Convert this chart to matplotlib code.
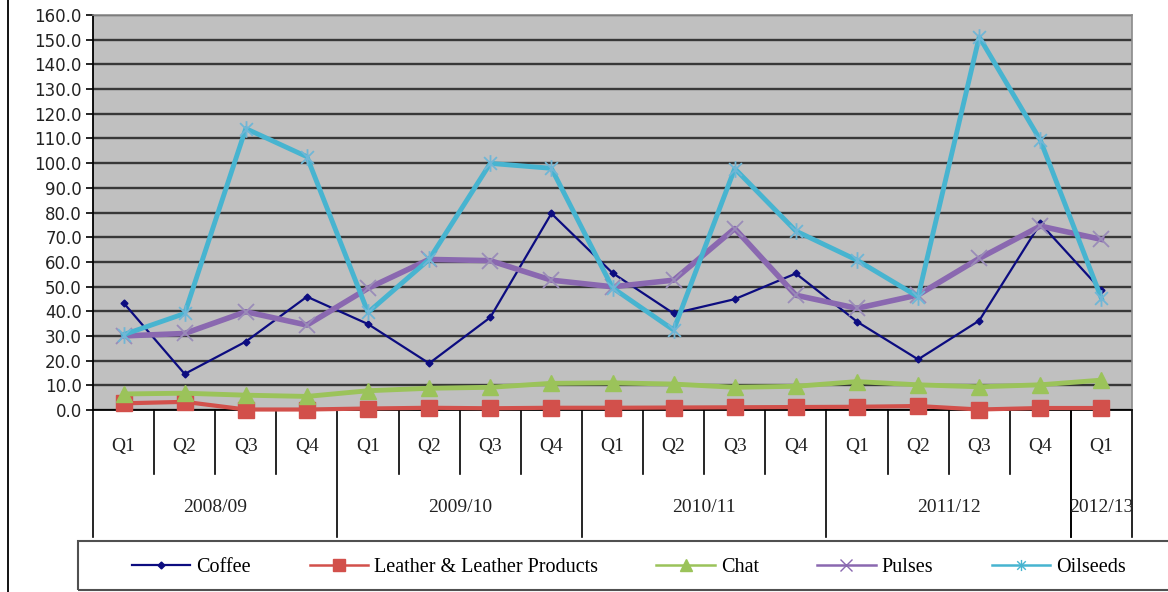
import numpy as np
import matplotlib
matplotlib.use("Agg")
import matplotlib.pyplot as plt
from matplotlib.path import Path
from matplotlib.lines import Line2D
from matplotlib.patches import Rectangle

# quarterly values, 2008/09 Q1 .. 2012/13 Q1
quarters = ["Q1", "Q2", "Q3", "Q4"] * 4 + ["Q1"]
years = ["2008/09", "2009/10", "2010/11", "2011/12", "2012/13"]
year_len = [4, 4, 4, 4, 1]

coffee = [43.4, 14.6, 27.7, 45.9, 34.8, 18.9, 37.5, 79.6, 55.5, 39.1, 44.9, 55.3,
          35.8, 20.5, 36.2, 75.6, 48.5]
leather = [2.7, 3.3, 0.2, 0.2, 0.6, 0.9, 0.7, 0.9, 0.9, 1.0, 1.1, 1.2,
           1.3, 1.6, 0.2, 0.8, 0.8]
chat = [6.5, 6.8, 6.0, 5.5, 7.8, 8.8, 9.2, 10.8, 11.0, 10.5, 9.2, 9.6,
        11.5, 10.2, 9.4, 10.2, 12.1]
pulses = [30.0, 31.0, 39.8, 34.4, 49.3, 61.0, 60.5, 52.6, 49.9, 52.6, 73.5, 46.5,
          41.2, 46.6, 61.4, 74.5, 69.1]
oilseeds = [30.5, 39.1, 114.0, 102.6, 39.5, 61.0, 99.9, 97.9, 49.5, 32.4, 97.8, 72.5,
            60.7, 45.9, 151.1, 109.3, 45.2]

series = [
    ("Coffee", coffee),
    ("Leather & Leather Products", leather),
    ("Chat", chat),
    ("Pulses", pulses),
    ("Oilseeds", oilseeds),
]

# Excel style asterisk: an x with a vertical bar
star = Path([(-1, -1), (1, 1), (-1, 1), (1, -1), (0, -1.3), (0, 1.3)],
            [Path.MOVETO, Path.LINETO, Path.MOVETO, Path.LINETO, Path.MOVETO, Path.LINETO])

colors = {
    "Coffee": "#0c0c80",
    "Leather & Leather Products": "#d2504b",
    "Chat": "#9bc35a",
    "Pulses": "#8a68b0",
    "Oilseeds": "#47b4d0",
}
styles = {
    "Coffee": dict(lw=1.6, marker="D", ms=3.5),
    "Leather & Leather Products": dict(lw=3, marker="s", ms=12),
    "Chat": dict(lw=3.5, marker="^", ms=12),
    "Pulses": dict(lw=4, marker="x", ms=11, mew=1.3, mec="#9a8cb8"),
    "Oilseeds": dict(lw=3.5, marker=star, ms=12, mew=1.3, mec="#6fb6d6"),
}
legend_styles = {
    "Coffee": dict(lw=1.6, marker="D", ms=3.5),
    "Leather & Leather Products": dict(lw=1.8, marker="s", ms=9),
    "Chat": dict(lw=1.8, marker="^", ms=9),
    "Pulses": dict(lw=1.8, marker="x", ms=8, mew=1.0),
    "Oilseeds": dict(lw=1.8, marker=star, ms=8, mew=1.0),
}

W, H = 1168, 592
fig = plt.figure(figsize=(W / 100, H / 100), dpi=100)
ax = fig.add_axes([93 / W, 1 - 410 / H, (1132 - 93) / W, (410 - 15) / H])
ax.set_facecolor("#c0c0c0")

x = np.arange(len(quarters))
handles = []
for name, vals in series:
    c = colors[name]
    st = dict(mfc=c, mec=c)
    st.update(styles[name])
    ax.plot(x, vals, color=c, zorder=3, clip_on=False, **st)
    lst = dict(mfc=c, mec=c)
    lst.update(legend_styles[name])
    handles.append(Line2D([], [], color=c, label=name, **lst))

ax.set_xlim(-0.5, len(quarters) - 0.5)
ax.set_ylim(0, 160)
ax.set_yticks(np.arange(0, 161, 10))
ax.set_yticklabels([f"{v:.1f}" for v in np.arange(0, 161, 10)],
                   fontsize=12, family="DejaVu Sans", color="#222222")
ax.tick_params(axis="y", direction="out", length=5, width=1.2, pad=3)
ax.set_xticks([])
ax.yaxis.grid(True, color="#383838", lw=1.7)
ax.set_axisbelow(True)

for side in ("top", "right"):
    ax.spines[side].set_color("#8a8a8a")
    ax.spines[side].set_linewidth(1.2)
ax.spines["left"].set_color("black")
ax.spines["bottom"].set_color("black")
ax.spines["left"].set_linewidth(1.3)
ax.spines["bottom"].set_linewidth(1.3)

# two-level category axis
tr = ax.get_xaxis_transform()
serif = "Liberation Serif"
ax_h = 410 - 15
q_y = -(447 - 410) / ax_h
q_sep = -(474 - 410) / ax_h
yr_y = -(508 - 410) / ax_h
yr_sep = -(537 - 410) / ax_h

for i, q in enumerate(quarters):
    ax.text(i, q_y, q, transform=tr, ha="center", va="center",
            fontsize=14, family=serif, color="#222222")

start = 0
bounds = [0]
for yr, n in zip(years, year_len):
    ax.text(start + (n - 1) / 2, yr_y, yr, transform=tr, ha="center", va="center",
            fontsize=14, family=serif, color="#222222")
    start += n
    bounds.append(start)

for b in range(len(quarters) + 1):
    bottom = yr_sep if b in bounds else q_sep
    ax.plot([b - 0.5, b - 0.5], [0, bottom], transform=tr, color="black",
            lw=1.2, clip_on=False)
# the last one-quarter year also gets a long line on its left
ax.plot([bounds[-2] - 0.5] * 2, [0, yr_sep], transform=tr, color="black", lw=1.2,
        clip_on=False)

# legend box and chart border
fig.patches.append(Rectangle((78 / W, 1 - 590 / H), (1200 - 78) / W, (590 - 541) / H,
                             transform=fig.transFigure, fill=False,
                             edgecolor="#505050", lw=1.5))
fig.lines.append(Line2D([8 / W, 8 / W], [0, 1], transform=fig.transFigure,
                        color="black", lw=1.3))

fig.legend(handles=handles, loc="center", bbox_to_anchor=(629 / W, 1 - 567 / H),
           ncol=5, frameon=False, handlelength=2.9, handletextpad=0.3,
           columnspacing=2.9, prop={"family": serif, "size": 14.5})

fig.savefig("out.png", dpi=100)
